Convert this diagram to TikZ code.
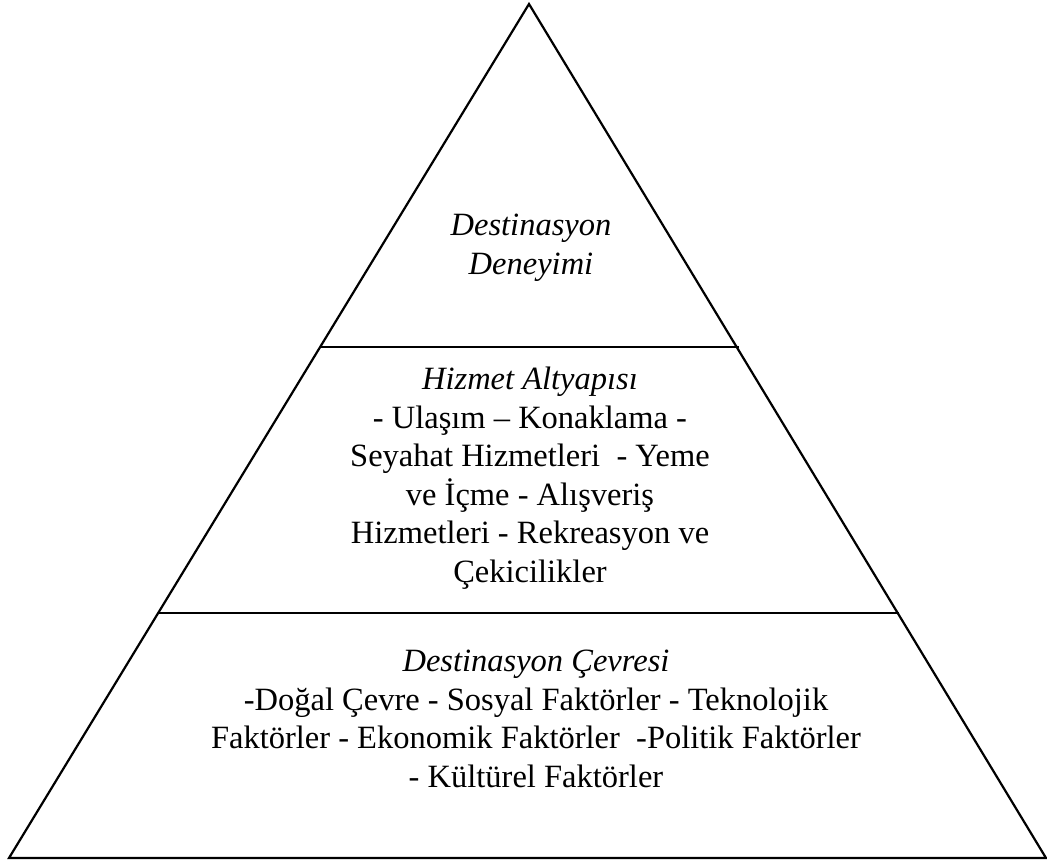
\documentclass[tikz,border=0pt]{standalone}
\usepackage{fontspec}
\setmainfont{Liberation Serif}
\usetikzlibrary{calc}
\begin{document}
\begin{tikzpicture}[x=1pt,y=-1pt,
  edge/.style={line width=2.2pt,line join=miter},
  tier/.style={align=center,inner sep=0pt,anchor=north,
    font=\fontsize{32.5}{38.5}\selectfont}]
  \useasboundingbox (0,0) rectangle (1047,861);
  % outline of the pyramid
  \coordinate (apex) at (529,4);
  \coordinate (bl) at (9,858);
  \coordinate (br) at (1046,858);
  \draw[edge] (apex) -- (bl) -- (br) -- cycle;
  % horizontal dividers between the tiers
  \coordinate (d1l) at ($(apex)!0.4016!(bl)$);
  \coordinate (d1r) at ($(apex)!0.4016!(br)+(2,0)$);
  \coordinate (d2l) at ($(apex)!0.7131!(bl)$);
  \coordinate (d2r) at ($(apex)!0.7131!(br)+(1,0)$);
  \draw[edge] (d1l) -- (d1r);
  \draw[edge] (d2l) -- (d2r);
  % tier texts
  \node[tier] (top) at (531,214) {\textit{Destinasyon}\\\textit{Deneyimi}};
  \node[tier] (mid) at (530,367) {\textit{Hizmet Altyapısı}\\- Ulaşım – Konaklama -\\Seyahat Hizmetleri~ - Yeme\\ve İçme - Alışveriş\\Hizmetleri - Rekreasyon ve\\Çekicilikler};
  \node[tier] (bot) at (536,650) {\textit{Destinasyon Çevresi}\\-Doğal Çevre - Sosyal Faktörler - Teknolojik\\Faktörler - Ekonomik Faktörler~ -Politik Faktörler\\- Kültürel Faktörler};
\end{tikzpicture}
\end{document}
